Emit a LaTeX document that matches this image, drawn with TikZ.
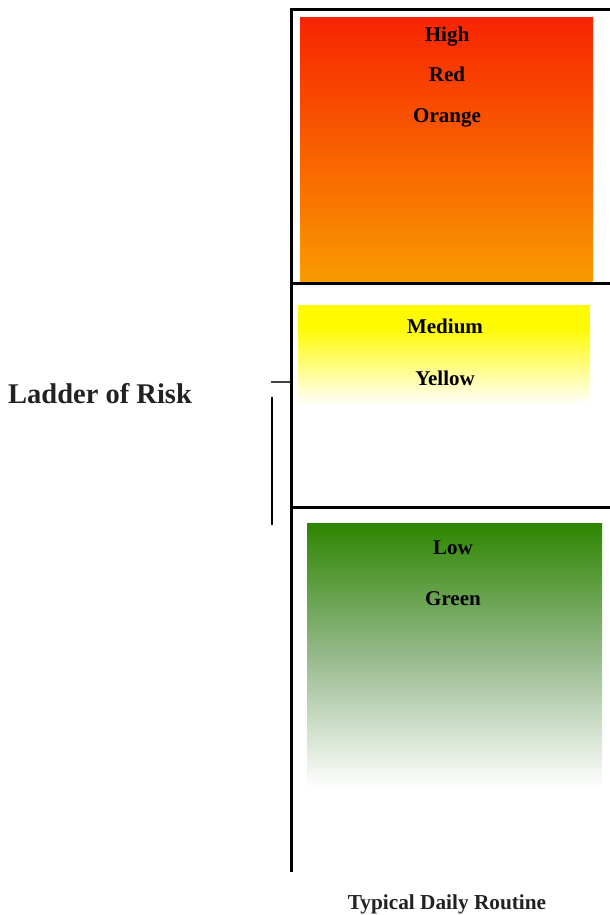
\documentclass[tikz,border=0pt]{standalone}
\usepackage{fontspec}
\setmainfont{Liberation Serif}
\begin{document}
\begin{tikzpicture}[x=1pt,y=-1pt,
  axisline/.style={line width=3pt,black},
  lbl/.style={font=\fontsize{21}{24}\selectfont\bfseries,text=black,inner sep=0pt,anchor=base},
  band/.style={draw=none,inner sep=0pt,anchor=north west}]
\useasboundingbox (0,0) rectangle (610,915);
\fill[white] (0,0) rectangle (610,915);
% shaded bands
\node[band,minimum width=293pt,minimum height=265pt,top color={rgb,255:red,248;green,36;blue,0},bottom color={rgb,255:red,249;green,155;blue,0}] (redband) at (300,17) {};
\node[band,minimum width=292pt,minimum height=22pt,fill={rgb,255:red,255;green,250;blue,0}] (yelsolid) at (298,305) {};
\node[band,minimum width=292pt,minimum height=78pt,top color={rgb,255:red,255;green,250;blue,0},bottom color=white] (yelband) at (298,326.5) {};
\node[band,minimum width=295pt,minimum height=265pt,top color={rgb,255:red,46;green,134;blue,0},bottom color=white,middle color={rgb,255:red,150;green,185;blue,140}] (greenband) at (307,523) {};
% axis lines
\coordinate (tr) at (610,10);
\coordinate (tl) at (291,10);
\coordinate (bl) at (291,872);
\coordinate (m1l) at (291,283);
\coordinate (m1r) at (610,283);
\coordinate (m2l) at (291,507);
\coordinate (m2r) at (610,507);
\draw[axisline] (tr) -- (tl) -- (bl);
\draw[axisline] (m1l) -- (m1r);
\draw[axisline] (m2l) -- (m2r);
% small connector lines
\coordinate (s1a) at (271,382);
\coordinate (s1b) at (290,382);
\coordinate (s2a) at (272,397);
\coordinate (s2b) at (272,525);
\draw[line width=2pt,black!75] (s1a) -- (s1b);
\draw[line width=2pt,black] (s2a) -- (s2b);
% labels
\node[lbl] (high) at (447,42) {High};
\node[lbl] (red) at (447,82) {Red};
\node[lbl] (orange) at (447,122) {Orange};
\node[lbl] (medium) at (445,333) {Medium};
\node[lbl] (yellow) at (445,385) {Yellow};
\node[lbl] (low) at (453,554) {Low};
\node[lbl] (green) at (453,605) {Green};
\node[font=\fontsize{28.5}{32}\selectfont\bfseries,text={rgb,255:red,34;green,34;blue,34},inner sep=0pt,anchor=base west] (ladder) at (8,403) {Ladder of Risk};
\node[font=\fontsize{21.3}{24}\selectfont\bfseries,text={rgb,255:red,34;green,34;blue,34},inner sep=0pt,anchor=base] (typical) at (447,909) {Typical Daily Routine};
\end{tikzpicture}
\end{document}
